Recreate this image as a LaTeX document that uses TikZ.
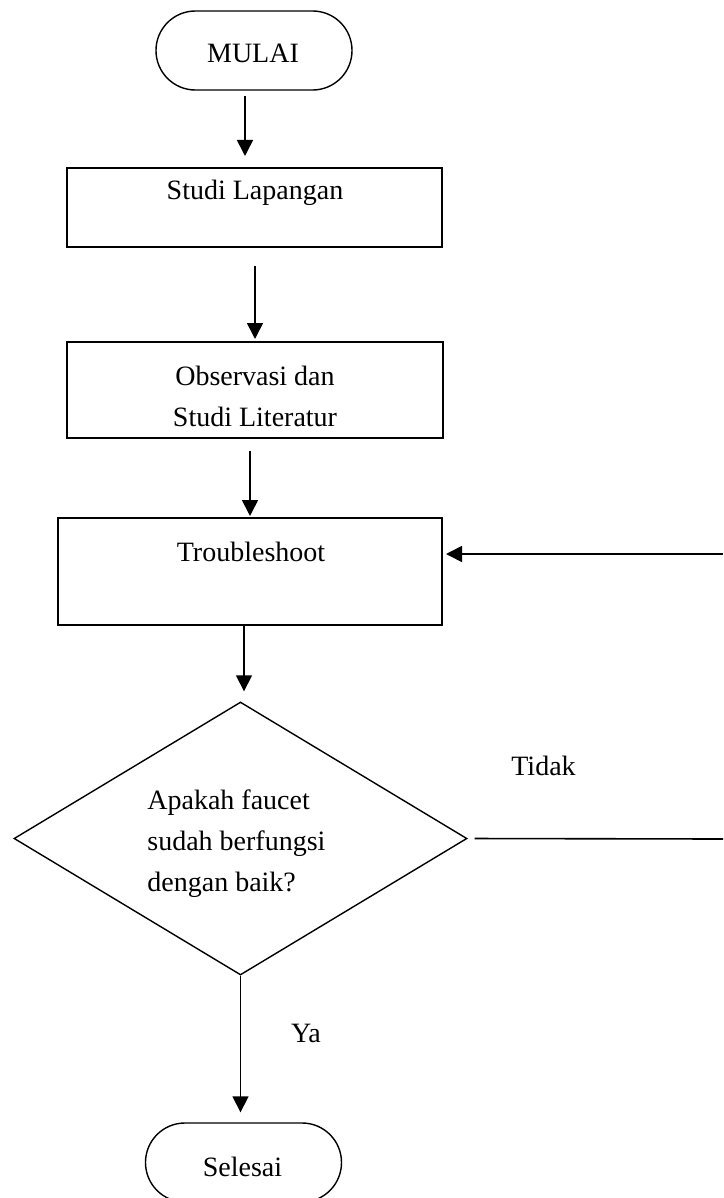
\documentclass[tikz,border=0pt]{standalone}
\usepackage{fontspec}
\setmainfont{Liberation Serif}
\usetikzlibrary{arrows.meta,positioning,shapes.geometric}
\tikzset{
  >={Triangle[length=8pt, width=8pt]},
  term/.style ={draw, line width=0.7pt, rounded corners=19.7pt, minimum width=98pt, minimum height=39.5pt},
  proc/.style ={draw, line width=1pt, minimum width=#1},
  dec/.style  ={draw, diamond, line width=0.7pt, inner sep=0pt, minimum width=226.5pt, minimum height=136.5pt},
  txt/.style  ={inner sep=0pt, font=\fontsize{14}{20.5}\selectfont},
  arr/.style  ={->, line width=0.8pt}
}
\begin{document}
\begin{tikzpicture}[x=0.5pt, y=-0.5pt]
\useasboundingbox (0,0) rectangle (723,1198);
% nodes
\node[term] (mulai) at (254,50.5) {};
\node[txt] (tmulai) at (253,53) {MULAI};
\node[proc=187.5pt, minimum height=39.5pt] (studi) at (254.5,207.5) {};
\node[txt] (tstudi) at (255,193) {Studi Lapangan};
\node[proc=188pt, minimum height=48pt] (obs) at (255,390) {};
\node[txt, align=center] (tobs) at (255,396) {Observasi dan\\Studi Literatur};
\node[proc=192pt, minimum height=53.5pt] (trouble) at (250,571.5) {};
\node[txt] (ttrouble) at (251,552) {Troubleshoot};
\node[dec] (cek) at (240.5,838.5) {};
\node[txt, align=left, anchor=west] (tcek) at (147,844) {Apakah faucet\\sudah berfungsi\\dengan baik?};
\node[term] (selesai) at (243.5,1162.5) {};
\node[txt] (tselesai) at (242.5,1167) {Selesai};
\node[txt] (tidak) at (543.5,766) {Tidak};
\node[txt] (ya) at (306,1033) {Ya};
\coordinate (kanan1) at (723,554);
\coordinate (kanan2) at (723,839);
% connectors
\draw[arr, shorten <=2.5pt, shorten >=5.5pt] ([xshift=-4.5pt]mulai.south) -- ([xshift=-4.5pt]mulai.south |- studi.north);
\draw[arr, shorten <=9pt, shorten >=1pt] (obs.north |- studi.south) -- (obs.north);
\draw[arr, shorten <=6pt, shorten >=0.5pt] (trouble.north |- obs.south) -- (trouble.north);
\draw[arr, shorten >=5pt] ([xshift=-3pt]trouble.south) -- ([xshift=-3pt]trouble.south |- cek.north);
\draw[arr, shorten >=1.5pt] (kanan1) -- (trouble.east |- kanan1);
\draw[line width=0.8pt, shorten <=3.5pt] (cek.east) -- (kanan2);
\draw[arr, shorten >=5pt] (cek.south) -- (cek.south |- selesai.north);
\end{tikzpicture}
\end{document}
